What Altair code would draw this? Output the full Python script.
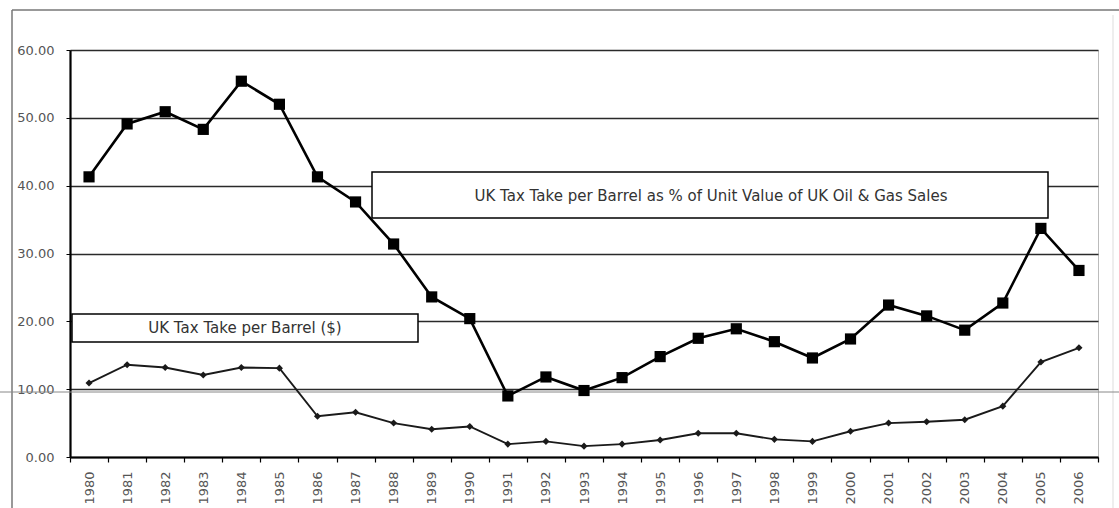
import altair as alt
import pandas as pd

# Years on the category axis
years = ["1980", "1981", "1982", "1983", "1984", "1985", "1986", "1987", "1988",
         "1989", "1990", "1991", "1992", "1993", "1994", "1995", "1996", "1997",
         "1998", "1999", "2000", "2001", "2002", "2003", "2004", "2005", "2006"]

# UK tax take per barrel as % of unit value of UK oil & gas sales
tax_pct_of_unit_value = [41.3, 49.1, 50.9, 48.3, 55.4, 52.0, 41.3, 37.6, 31.4,
                         23.6, 20.4, 9.0, 11.8, 9.8, 11.7, 14.8, 17.5, 18.9,
                         17.0, 14.6, 17.4, 22.4, 20.8, 18.7, 22.7, 33.7, 27.5]

# UK tax take per barrel in US dollars
tax_per_barrel_usd = [10.9, 13.6, 13.2, 12.1, 13.2, 13.1, 6.0, 6.6, 5.0,
                      4.1, 4.5, 1.9, 2.3, 1.6, 1.9, 2.5, 3.5, 3.5,
                      2.6, 2.3, 3.8, 5.0, 5.2, 5.5, 7.5, 14.0, 16.1]

y_ticks = [0, 10, 20, 30, 40, 50, 60]

pct_label = "UK Tax Take per Barrel as % of Unit Value of UK Oil & Gas Sales"
usd_label = "UK Tax Take per Barrel ($)"

df = pd.DataFrame({
    "year": years,
    "pct": tax_pct_of_unit_value,
    "usd": tax_per_barrel_usd,
})

W, H = 1028, 407
FONT = "DejaVu Sans"
LABEL_COLOR = "#555555"

x_enc = alt.X(
    "year:O",
    sort=years,
    bandPosition=0.5,
    scale=alt.Scale(type="band", paddingInner=0, paddingOuter=0),
    axis=alt.Axis(
        title=None,
        labelAngle=270,
        labelFont=FONT,
        labelFontSize=13,
        labelColor=LABEL_COLOR,
        labelPadding=9,
        tickBand="extent",
        tickSize=5,
        tickColor="black",
        tickWidth=1.2,
        domainColor="black",
        domainWidth=2.2,
        grid=False,
    ),
)


def y_enc(field):
    return alt.Y(
        f"{field}:Q",
        scale=alt.Scale(domain=[0, 60], nice=False, zero=True),
        axis=alt.Axis(
            title=None,
            values=y_ticks,
            format=".2f",
            labelFont=FONT,
            labelFontSize=13,
            labelColor=LABEL_COLOR,
            labelPadding=12,
            tickSize=4,
            tickColor="black",
            domainColor="black",
            domainWidth=2.2,
            grid=True,
            gridColor="#2a2a2a",
            gridWidth=1.6,
        ),
    )


base = alt.Chart(df)

pct_line = base.mark_line(color="black", strokeWidth=2.6).encode(x=x_enc, y=y_enc("pct"))
pct_pts = base.mark_point(shape="square", filled=True, size=125, color="black", opacity=1).encode(
    x=x_enc, y=y_enc("pct"))

usd_line = base.mark_line(color="#1a1a1a", strokeWidth=1.9).encode(x=x_enc, y=y_enc("usd"))
usd_pts = base.mark_point(shape="diamond", filled=True, size=50, color="#1a1a1a", opacity=1).encode(
    x=x_enc, y=y_enc("usd"))

# Series caption boxes
pct_box_df = pd.DataFrame({"label": [pct_label]})
usd_box_df = pd.DataFrame({"label": [usd_label]})

pct_box = alt.Chart(pct_box_df).mark_rect(fill="white", stroke="black", strokeWidth=1.5).encode(
    x=alt.value(302), x2=alt.value(978), y=alt.value(122), y2=alt.value(168))
pct_text = alt.Chart(pct_box_df).mark_text(font=FONT, fontSize=15, color="#333333").encode(
    x=alt.value(641), y=alt.value(146), text="label:N")

usd_box = alt.Chart(usd_box_df).mark_rect(fill="white", stroke="black", strokeWidth=1.5).encode(
    x=alt.value(2), x2=alt.value(348), y=alt.value(264), y2=alt.value(292))
usd_text = alt.Chart(usd_box_df).mark_text(font=FONT, fontSize=15, color="#333333").encode(
    x=alt.value(175), y=alt.value(278), text="label:N")

# Outer frame around the chart object
frame_df = pd.DataFrame({"k": [0]})
frame_left = alt.Chart(frame_df).mark_rule(color="#777777", strokeWidth=1.5).encode(
    x=alt.value(-58), y=alt.value(-40), y2=alt.value(460))
frame_top = alt.Chart(frame_df).mark_rule(color="#777777", strokeWidth=1.5).encode(
    x=alt.value(-58), x2=alt.value(1049), y=alt.value(-40))
frame_right = alt.Chart(frame_df).mark_rule(color="#dddddd", strokeWidth=1).encode(
    x=alt.value(1043), y=alt.value(-35), y2=alt.value(460))
frame_mid = alt.Chart(frame_df).mark_rule(color="#888888", strokeWidth=1).encode(
    x=alt.value(-70), x2=alt.value(1049), y=alt.value(342))

chart = alt.layer(
    frame_left, frame_top, frame_right, frame_mid,
    pct_box, usd_box, pct_text, usd_text,
    usd_line, usd_pts, pct_line, pct_pts,
).properties(
    width=W,
    height=H,
    background="white",
    padding={"left": 70, "top": 50, "right": 21, "bottom": 51},
    autosize=alt.AutoSizeParams(type="none"),
).configure_view(
    stroke="#bbbbbb", strokeWidth=1
)

chart.save("out.html", embed_options={"renderer": "svg", "actions": False})
